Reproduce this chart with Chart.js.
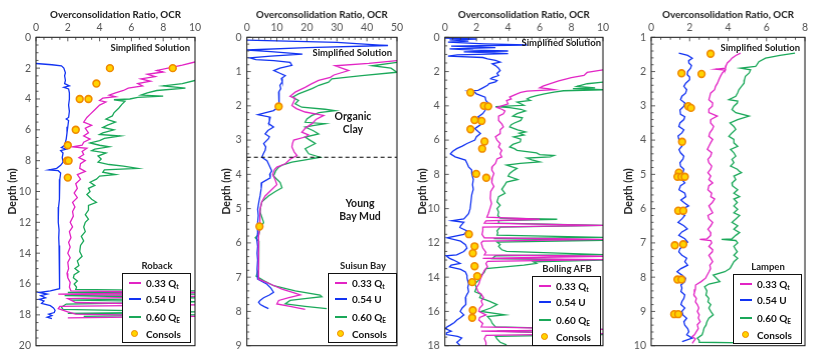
<!DOCTYPE html>
<html><head><meta charset="utf-8">
<script src="https://cdn.jsdelivr.net/npm/chart.js@4.4.1/dist/chart.umd.min.js"></script>
<style>
html,body{margin:0;padding:0;background:#fff;}
body{width:822px;height:357px;overflow:hidden;position:relative;font-family:Lato,"Liberation Sans",sans-serif;}
.wrap{position:absolute;top:0;height:357px;}
.note{position:absolute;font-weight:bold;font-size:9.5px;color:#1a1a1a;white-space:nowrap;line-height:12px;}
.big{font-size:10.5px;line-height:12.5px;}
.ctr{text-align:center;transform:translateX(-50%);}
.leg{position:absolute;border:1.5px solid #111;background:#fff;box-sizing:border-box;width:69px;height:70px;}
.legt{position:absolute;font-weight:bold;font-size:9.5px;color:#222;white-space:nowrap;transform:translateX(-50%);}
.row{position:absolute;left:0;height:14px;width:100%;}
.samp{position:absolute;left:6px;top:6px;width:12px;height:1.6px;}
.dot{position:absolute;left:8px;top:3px;width:5px;height:5px;border-radius:50%;background:#ffd400;border:1.5px solid #f08a00;}
.lab{position:absolute;left:23px;top:0;font-weight:bold;font-size:10px;color:#111;line-height:14px;white-space:nowrap;}
.lab sub{font-size:6.5px;vertical-align:-2px;}
</style></head>
<body>
<div class="wrap" id="w1"><canvas id="c1"></canvas></div>
<div class="wrap" id="w2"><canvas id="c2"></canvas></div>
<div class="wrap" id="w3"><canvas id="c3"></canvas></div>
<div class="wrap" id="w4"><canvas id="c4"></canvas></div>
<div id="overlay"></div>
<script>
// ---------------- DATA (depth m, OCR) ----------------
const seriesNames = ['0.33 Qt', '0.54 U', '0.60 QE', 'Consols'];
const siteNames = ['Roback', 'Suisun Bay', 'Bolling AFB', 'Lampen'];

// Roback
const robackQt = [[1.6,10],[1.8,9.2],[2.0,8.3],[2.15,7.6],[2.25,8.0],[2.4,7.0],[2.55,7.5],[2.7,6.6],[2.85,7.2],[3.0,6.4],[3.15,6.7],[3.3,5.8],[3.45,5.5],[3.6,5.0],[3.75,4.6],[3.85,5.0],[3.95,4.2],[4.1,4.0],[4.2,4.4],[4.4,4.0],[4.7,3.7],[5.0,3.4],[5.2,3.2],[5.5,3.0],[5.7,3.5],[5.9,3.1],[6.2,3.3],[6.4,3.0],[6.6,3.4],[6.8,3.0],[7.0,2.9],[7.1,2.3],[7.2,3.2],[7.4,2.9],[7.6,3.0],[7.8,2.7],[8.0,3.1],[8.2,2.8],[8.5,2.75],[8.7,3.1],[8.9,2.6],[9.2,2.8],[9.5,2.5],[9.8,2.6],[10.1,2.4],[10.4,2.6],[10.7,2.3],[11.0,2.45],[11.3,2.3],[11.6,2.35],[12.0,2.15],[12.3,2.3],[12.6,2.1],[13.0,2.2],[13.3,2.05],[13.6,2.15],[14.0,2.0],[14.3,2.15],[14.6,2.0],[15.0,2.05],[15.3,1.95],[15.6,2.0],[15.9,2.15],[16.2,2.1],[16.45,2.2],[16.55,10],[16.65,1.4],[16.8,10],[16.95,2.0],[17.2,2.5],[17.35,10],[17.45,1.5],[17.6,1.4],[17.8,2.0],[17.95,2.5],[18.1,10],[18.2,2.0]];
const robackU = [[1.7,0.0],[1.78,1.0],[1.85,1.6],[2.0,1.75],[2.3,1.85],[2.5,1.8],[2.8,1.85],[3.0,1.8],[3.15,2.1],[3.25,1.75],[3.35,2.05],[3.6,2.1],[4.0,2.1],[4.4,2.05],[4.8,2.1],[5.2,2.05],[5.3,1.9],[5.4,2.05],[5.8,2.0],[6.2,1.95],[6.6,1.9],[7.0,1.8],[7.15,1.6],[7.25,1.9],[7.35,1.55],[7.5,1.7],[7.8,1.65],[8.1,1.7],[8.3,1.55],[8.5,1.3],[8.6,0.8],[8.65,1.4],[8.8,1.55],[9.2,1.5],[9.6,1.5],[10.0,1.47],[10.5,1.45],[11.0,1.42],[11.5,1.4],[12.0,1.4],[12.5,1.45],[13.0,1.43],[13.5,1.45],[14.0,1.47],[14.5,1.45],[15.0,1.5],[15.5,1.48],[16.0,1.5],[16.3,1.5],[16.45,0.9],[16.55,0.2],[16.65,0.7],[16.75,0.3],[16.9,0.6],[17.0,0.2],[17.1,0.5],[17.25,0.35],[17.4,0.9],[17.55,1.1],[17.7,1.2],[17.85,1.15],[17.95,0.8],[18.05,1.0],[18.15,0.7],[18.25,1.0]];
const robackQE = [[2.8,10],[3.0,9.2],[3.15,8.0],[3.3,9.4],[3.45,7.6],[3.6,7.0],[3.75,6.6],[3.82,8.0],[3.9,6.4],[4.0,5.9],[4.05,4.9],[4.15,5.6],[4.35,5.4],[4.6,5.2],[4.9,4.9],[5.1,4.8],[5.3,4.4],[5.5,5.0],[5.7,4.5],[5.85,4.2],[6.0,4.9],[6.2,4.2],[6.3,4.0],[6.4,5.3],[6.55,4.3],[6.7,4.0],[6.85,3.4],[7.0,4.0],[7.1,4.6],[7.25,3.7],[7.35,3.5],[7.5,4.4],[7.7,3.9],[7.9,4.1],[8.1,3.9],[8.25,4.6],[8.35,5.5],[8.5,6.4],[8.6,4.3],[8.75,4.2],[8.9,5.0],[9.0,4.0],[9.2,3.8],[9.4,3.4],[9.6,3.7],[9.8,3.3],[10.0,3.4],[10.2,3.2],[10.5,3.5],[10.7,3.8],[10.9,3.3],[11.2,3.3],[11.5,3.1],[11.8,3.3],[12.0,3.1],[12.3,3.0],[12.6,3.1],[12.9,2.85],[13.2,3.0],[13.5,2.8],[13.9,2.75],[14.2,2.9],[14.5,2.6],[14.8,2.7],[15.0,2.45],[15.2,2.7],[15.4,2.4],[15.6,2.35],[15.8,2.6],[16.0,2.4],[16.2,2.55],[16.35,2.5],[16.45,10],[16.55,2.0],[16.65,10],[16.75,1.8],[16.9,10],[17.05,2.2],[17.15,10],[17.3,1.9],[17.5,1.6],[17.65,1.7],[17.8,10],[17.9,2.0],[18.0,10],[18.1,3.0]];
const robackConsols = [[2.0,4.65],[2.0,8.6],[3.0,3.8],[4.0,2.75],[4.0,3.3],[6.0,2.5],[7.0,2.0],[8.0,1.95],[8.0,2.05],[9.1,2.0]];

// Suisun Bay
const suisunQt = [[0.68,50],[0.76,40.6],[0.83,29.4],[0.97,33.9],[1.1,29],[1.17,27.8],[1.26,23.9],[1.36,21.5],[1.46,19.4],[1.6,16.1],[1.72,14.4],[1.78,16.1],[1.9,15.5],[1.99,15.0],[2.08,16.5],[2.18,19.4],[2.28,25.6],[2.4,23],[2.52,21.7],[2.65,19.5],[2.77,18.3],[2.85,20.5],[2.91,19.4],[3.0,15.6],[3.1,15.2],[3.2,15.0],[3.35,15.8],[3.45,16.7],[3.55,14.5],[3.69,12.8],[3.79,10.0],[3.86,9.2],[4.0,8.6],[4.15,9.4],[4.3,10.0],[4.44,8.3],[4.63,6.1],[4.8,5.0],[5.02,4.4],[5.3,4.4],[5.5,4.3],[5.8,3.9],[6.1,4.0],[6.4,3.8],[6.77,3.9],[7.06,3.9],[7.2,7.8],[7.35,11.7],[7.45,15.5],[7.52,17.8],[7.6,14],[7.68,10.6],[7.78,10.0],[7.85,14.4],[7.94,19.4]];
const suisunU = [[0.08,0],[0.15,30],[0.24,47],[0.3,20],[0.37,0],[0.42,8],[0.49,18.5],[0.55,8],[0.6,1],[0.65,3],[0.68,9],[0.73,14.4],[0.82,15],[0.9,11],[0.97,9],[1.05,11],[1.12,12.8],[1.2,11.5],[1.3,11.8],[1.4,11],[1.5,11.3],[1.6,10.6],[1.75,10.6],[1.9,10.8],[2.02,10.8],[2.14,8.9],[2.26,3.7],[2.33,7.8],[2.45,7.5],[2.52,7.2],[2.62,8.9],[2.72,7.0],[2.82,6.1],[2.9,7.5],[2.96,7.2],[3.1,5.6],[3.2,6.3],[3.3,6.1],[3.4,5.5],[3.5,5.0],[3.6,6.7],[3.75,7.5],[3.9,8.3],[4.0,7.6],[4.1,7.8],[4.24,5.0],[4.4,4.8],[4.63,4.4],[4.8,4.0],[5.02,3.6],[5.2,3.8],[5.5,3.5],[5.7,3.6],[5.9,3.3],[6.1,3.6],[6.3,3.4],[6.5,3.6],[6.77,3.4],[6.95,3.5],[7.06,3.6],[7.2,6.6],[7.32,8.0],[7.44,8.9],[7.52,7.5],[7.6,5.6],[7.68,4.4],[7.73,3.9],[7.8,4.5],[7.86,5.8],[7.92,7.2]];
const suisunQE = [[0.73,50],[0.83,41.7],[0.9,48],[1.02,50],[1.12,38.3],[1.21,28.3],[1.31,27.2],[1.4,24],[1.5,21.7],[1.65,17.2],[1.75,15.2],[1.84,17.2],[1.94,16.1],[2.04,18.3],[2.1,26],[2.14,29.4],[2.2,24],[2.28,21.7],[2.38,20],[2.48,19.4],[2.52,26.1],[2.58,22],[2.62,19.4],[2.72,22],[2.82,23.9],[2.91,19.4],[3.0,21],[3.1,22.8],[3.25,19.4],[3.4,20.6],[3.5,24.4],[3.57,20],[3.64,15],[3.72,12],[3.79,10.6],[3.9,9.6],[4.05,8.9],[4.24,11.1],[4.39,11.7],[4.5,9.5],[4.63,7.2],[4.8,5.0],[4.95,4.6],[5.1,4.4],[5.25,5.0],[5.4,5.6],[5.6,4.4],[5.75,4.0],[5.85,2.8],[5.95,4.0],[6.3,3.8],[6.6,4.1],[6.77,3.9],[6.97,3.1],[7.1,5.6],[7.25,8.9],[7.4,16.1],[7.52,24.4],[7.57,25],[7.62,20],[7.68,14.4],[7.78,12.8],[7.85,19.4],[7.92,26.6]];
const suisunConsols = [[2.02,10.6],[5.52,4.2]];
const suisunBoundary = [[3.5,0],[3.5,50]];

// Bolling AFB
const bollingQt = [[1.9,10],[2.05,9.0],[2.23,8.8],[2.35,8.0],[2.42,7.7],[2.55,7.2],[2.71,6.67],[2.85,6.2],[2.95,6.0],[3.0,6.5],[3.06,6.9],[3.14,5.2],[3.22,4.8],[3.3,4.56],[3.49,4.1],[3.6,4.2],[3.7,3.9],[3.88,4.0],[4.0,3.6],[4.1,3.3],[4.2,3.6],[4.3,3.8],[4.46,3.7],[4.6,3.4],[4.85,3.4],[5.05,3.6],[5.23,3.7],[5.4,3.5],[5.62,3.5],[5.8,3.2],[6.0,3.3],[6.2,3.5],[6.4,3.4],[6.6,3.6],[6.8,3.5],[6.98,3.6],[7.1,3.3],[7.36,3.2],[7.55,3.0],[7.75,2.97],[7.95,3.1],[8.2,3.0],[8.48,2.97],[8.7,3.1],[9.0,2.9],[9.4,2.87],[9.7,2.95],[10.0,2.85],[10.3,2.75],[10.5,2.66],[10.62,6.0],[10.72,2.6],[10.85,2.5],[10.98,10],[11.08,2.4],[11.3,2.4],[11.5,2.35],[11.7,2.5],[11.8,10],[11.9,2.4],[12.0,2.3],[12.3,2.4],[12.55,2.6],[12.7,2.5],[12.78,10],[12.9,2.4],[12.98,10],[13.08,2.7],[13.2,2.6],[13.4,2.7],[13.6,2.5],[13.9,2.35],[14.1,2.25],[14.4,2.15],[14.6,2.0],[14.85,2.1],[15.0,2.3],[15.2,2.45],[15.4,2.3],[15.6,2.4],[15.8,2.2],[16.0,2.15],[16.2,2.6],[16.35,2.2],[16.5,2.15],[16.7,2.4],[16.9,2.3],[17.05,10],[17.15,2.3],[17.3,10],[17.4,2.6],[17.6,2.5],[17.8,2.6],[18.0,2.6]];
const bollingU = [[0.05,0],[0.1,2.0],[0.15,0.3],[0.22,1.5],[0.28,0.2],[0.38,2.5],[0.45,5.2],[0.52,0.4],[0.6,3.2],[0.68,0.3],[0.75,1.8],[0.8,4.0],[0.85,1.2],[0.9,2.8],[0.95,4.0],[1.02,0.8],[1.1,0.2],[1.18,2.4],[1.26,2.7],[1.35,3.2],[1.45,3.5],[1.55,3.0],[1.65,3.2],[1.8,3.4],[1.94,3.5],[2.1,3.3],[2.23,3.4],[2.35,3.0],[2.42,2.9],[2.52,3.3],[2.6,3.2],[2.7,2.8],[2.8,2.7],[2.95,2.4],[3.1,2.1],[3.14,1.5],[3.22,1.9],[3.3,2.0],[3.5,2.55],[3.7,2.6],[3.88,2.8],[4.05,2.6],[4.26,2.55],[4.45,2.4],[4.65,2.1],[4.85,2.3],[5.04,2.35],[5.2,2.1],[5.33,1.9],[5.5,2.1],[5.62,2.25],[5.8,2.0],[6.0,1.9],[6.2,1.4],[6.35,1.1],[6.5,0.75],[6.65,0.5],[6.8,0.35],[6.98,0.65],[7.17,1.3],[7.35,1.4],[7.56,1.5],[7.75,1.7],[7.95,1.7],[8.3,1.8],[8.6,1.75],[8.87,1.8],[9.2,1.7],[9.6,1.65],[10.0,1.6],[10.3,1.5],[10.6,1.2],[10.7,0.45],[10.8,1.2],[11.0,1.0],[11.1,0.95],[11.3,1.4],[11.5,1.2],[11.7,0.13],[11.9,1.0],[12.1,1.3],[12.3,1.4],[12.5,1.2],[12.7,0.75],[12.75,0.08],[12.9,0.3],[13.0,0.55],[13.2,0.97],[13.3,0.4],[13.4,0.3],[13.55,1.0],[13.7,1.3],[13.9,1.4],[14.05,1.4],[14.4,1.5],[14.6,1.45],[14.85,1.5],[15.0,1.4],[15.2,1.3],[15.4,1.35],[15.6,1.3],[15.8,1.1],[16.0,0.97],[16.2,1.2],[16.35,1.0],[16.5,0.76],[16.65,0.6],[16.8,0.34],[16.9,0.15],[17.0,0.02],[17.15,0.4],[17.25,0.1],[17.35,0.1],[17.45,0.8],[17.55,1.07],[17.7,0.9],[17.8,0.76],[18.0,0.97]];
const bollingQE = [[2.62,10],[2.71,9.0],[2.8,8.6],[2.87,8.35],[2.95,9.5],[3.0,8.1],[3.06,10],[3.12,7.5],[3.2,6.9],[3.3,6.3],[3.4,5.8],[3.5,5.4],[3.6,5.2],[3.68,5.4],[3.78,4.56],[3.88,4.8],[3.97,5.0],[4.05,3.2],[4.1,4.1],[4.2,4.8],[4.3,5.1],[4.46,4.56],[4.6,4.3],[4.7,4.9],[4.85,4.8],[5.0,4.4],[5.1,4.2],[5.23,4.1],[5.4,4.6],[5.52,5.1],[5.6,4.7],[5.7,5.0],[5.81,4.35],[5.95,4.8],[6.1,4.77],[6.25,4.3],[6.4,4.1],[6.5,4.4],[6.6,4.56],[6.75,5.8],[6.85,6.0],[6.9,6.9],[6.98,6.67],[7.05,5.2],[7.15,5.5],[7.27,6.0],[7.36,4.77],[7.46,3.9],[7.55,4.2],[7.65,4.56],[7.8,4.3],[7.95,4.1],[8.1,4.0],[8.3,4.6],[8.45,3.9],[8.6,3.8],[8.87,3.6],[9.1,3.8],[9.3,3.4],[9.6,3.3],[9.8,3.5],[10.0,3.3],[10.2,3.4],[10.4,3.35],[10.55,3.5],[10.62,7.1],[10.7,3.4],[10.85,3.4],[10.98,10],[11.08,3.5],[11.3,3.3],[11.4,3.35],[11.55,3.3],[11.68,10],[11.75,3.1],[11.85,10],[11.95,3.3],[12.1,3.5],[12.2,3.4],[12.4,3.6],[12.5,3.9],[12.68,10],[12.75,3.2],[12.92,3.0],[13.0,10],[13.1,5.6],[13.2,5.8],[13.3,5.0],[13.5,2.6],[13.7,2.5],[13.9,2.3],[14.1,2.2],[14.4,1.9],[14.6,2.0],[14.85,1.9],[15.0,2.3],[15.2,2.2],[15.4,2.8],[15.6,3.3],[15.8,2.9],[16.0,2.3],[16.2,3.8],[16.3,2.7],[16.5,2.9],[16.7,3.0],[16.9,3.2],[17.05,10],[17.15,3.3],[17.35,10],[17.45,3.2],[17.6,3.3],[17.8,3.5],[17.95,3.9]];
const bollingConsols = [[3.22,1.62],[4.0,2.47],[4.03,2.74],[4.83,1.88],[4.88,2.32],[5.37,1.62],[6.08,2.51],[6.5,2.36],[7.97,1.98],[8.2,2.62],[11.49,1.52],[12.2,1.88],[12.6,1.77],[13.36,1.88],[13.94,2.05],[14.29,1.73],[15.93,1.77],[16.37,1.73]];

// Lampen
const lampenQt = [[1.46,4.65],[1.53,4.4],[1.61,4.2],[1.68,4.1],[1.75,3.96],[1.82,3.9],[1.9,3.87],[1.93,3.35],[1.96,3.85],[2.04,3.7],[2.14,3.6],[2.24,3.52],[2.34,3.45],[2.43,3.35],[2.53,3.3],[2.63,3.09],[2.72,3.05],[2.82,3.0],[2.92,3.2],[3.01,3.18],[3.1,3.0],[3.2,3.0],[3.3,3.44],[3.4,3.1],[3.5,3.09],[3.6,3.25],[3.69,3.18],[3.79,3.05],[3.89,3.0],[3.98,3.2],[4.08,3.09],[4.18,3.0],[4.27,2.92],[4.37,3.15],[4.47,3.09],[4.56,2.95],[4.66,3.0],[4.76,3.15],[4.85,3.09],[4.95,2.95],[5.05,3.1],[5.15,3.0],[5.25,3.2],[5.33,3.0],[5.45,2.95],[5.55,3.15],[5.65,3.1],[5.72,3.3],[5.82,3.18],[5.92,3.0],[6.02,3.1],[6.12,3.2],[6.2,2.95],[6.3,3.0],[6.4,3.2],[6.5,3.1],[6.6,2.95],[6.7,3.1],[6.78,3.09],[6.88,2.9],[6.9,2.53],[6.93,3.1],[7.0,3.15],[7.1,3.0],[7.2,3.2],[7.26,3.18],[7.36,3.0],[7.45,3.1],[7.55,3.2],[7.65,3.05],[7.75,3.09],[7.85,3.0],[7.95,2.9],[8.03,2.83],[8.13,2.6],[8.23,2.31],[8.35,2.3],[8.45,2.25],[8.52,2.22],[8.62,2.35],[8.72,2.3],[8.8,2.4],[8.9,2.48],[9.0,2.4],[9.1,2.5],[9.19,2.45],[9.3,2.55],[9.39,2.4],[9.5,2.45],[9.59,2.35],[9.68,2.25],[9.73,2.14],[9.8,2.3],[9.88,2.2],[9.93,2.14]];
const lampenU = [[1.46,1.44],[1.53,1.9],[1.61,2.14],[1.68,1.95],[1.75,1.96],[1.82,2.1],[1.9,2.05],[2.0,1.9],[2.09,1.88],[2.16,2.0],[2.24,2.0],[2.34,1.8],[2.43,1.7],[2.53,1.85],[2.63,1.79],[2.72,1.6],[2.82,1.53],[2.92,1.75],[3.01,1.7],[3.12,1.5],[3.25,1.53],[3.32,1.75],[3.4,1.7],[3.5,1.5],[3.6,1.44],[3.7,1.7],[3.79,1.6],[3.88,1.4],[3.98,1.44],[4.08,1.65],[4.18,1.6],[4.28,1.45],[4.37,1.53],[4.47,1.7],[4.56,1.65],[4.66,1.5],[4.76,1.53],[4.85,1.7],[4.95,1.65],[5.05,1.5],[5.15,1.6],[5.25,1.75],[5.33,1.53],[5.45,1.45],[5.55,1.75],[5.65,1.8],[5.75,1.55],[5.82,1.7],[5.92,1.95],[6.02,1.6],[6.12,1.5],[6.2,1.75],[6.3,1.6],[6.4,1.4],[6.5,1.7],[6.59,1.88],[6.68,1.6],[6.78,1.44],[6.88,1.75],[6.98,1.9],[7.07,1.7],[7.17,1.5],[7.26,1.44],[7.36,1.6],[7.45,1.85],[7.55,1.75],[7.65,1.9],[7.75,1.55],[7.84,1.35],[7.94,1.6],[8.03,1.79],[8.13,1.75],[8.23,1.55],[8.32,1.6],[8.42,1.55],[8.52,1.75],[8.62,1.7],[8.71,1.6],[8.8,1.55],[8.9,1.75],[9.0,1.6],[9.1,1.65],[9.2,1.85],[9.3,1.7],[9.4,1.75],[9.5,1.9],[9.59,1.96],[9.68,1.85],[9.78,2.14],[9.88,1.61]];
const lampenQE = [[1.46,7.48],[1.53,6.7],[1.61,5.95],[1.71,5.6],[1.8,5.5],[1.85,5.43],[1.9,4.65],[1.95,5.17],[2.04,5.1],[2.14,4.9],[2.24,4.85],[2.34,4.83],[2.43,4.7],[2.53,4.56],[2.62,4.5],[2.72,4.4],[2.82,4.04],[2.86,4.5],[2.92,4.48],[3.01,4.3],[3.11,4.2],[3.2,4.4],[3.3,5.09],[3.4,4.5],[3.5,4.1],[3.6,4.3],[3.69,4.4],[3.79,4.2],[3.89,4.04],[3.98,4.3],[4.08,4.3],[4.18,4.5],[4.27,4.13],[4.37,4.3],[4.47,4.4],[4.56,4.2],[4.66,4.3],[4.76,4.13],[4.85,4.48],[4.9,4.57],[4.95,4.7],[5.05,4.3],[5.15,4.4],[5.25,4.2],[5.33,4.22],[5.45,4.5],[5.55,4.3],[5.65,4.6],[5.72,4.3],[5.82,4.48],[5.92,4.3],[6.02,4.5],[6.12,4.3],[6.2,4.6],[6.3,4.4],[6.4,4.2],[6.5,4.5],[6.6,4.3],[6.7,4.6],[6.78,4.4],[6.88,4.2],[6.9,3.66],[6.93,4.4],[7.0,4.5],[7.1,4.3],[7.2,4.4],[7.26,4.48],[7.36,4.3],[7.45,4.5],[7.55,4.3],[7.65,4.2],[7.75,4.1],[7.84,3.83],[7.94,3.23],[8.03,3.4],[8.13,3.57],[8.2,3.0],[8.28,2.78],[8.4,2.9],[8.52,2.85],[8.62,3.0],[8.72,2.95],[8.8,3.1],[8.9,3.0],[9.0,3.1],[9.1,3.23],[9.2,3.0],[9.3,2.9],[9.4,2.85],[9.49,2.75],[9.6,2.7],[9.68,2.65],[9.78,2.4],[9.85,2.5],[9.9,2.5],[9.92,4.9]];
const lampenConsols = [[1.48,3.09],[2.05,1.58],[2.07,2.62],[3.01,1.93],[3.06,2.07],[4.05,1.61],[4.95,1.44],[5.07,1.37],[5.07,1.58],[5.07,1.75],[6.06,1.41],[6.06,1.67],[7.07,1.23],[7.04,1.67],[8.07,1.37],[8.07,1.58],[9.08,1.2],[9.08,1.41]];

// axis ranges / ticks per panel
const xMaxes = [10, 50, 10, 8];
const xSteps = [2, 10, 2, 2];
const yMins = [0, 0, 0, 1];
const yMaxes = [20, 9, 18, 10];
const ySteps = [2, 1, 2, 1];
const yMinorSteps = [0.5, 0.2, 0.5, 0.2];
const xMinorSteps = [0.5, 2, 0.5, 0.5];

// ---------------- STYLE / LAYOUT ----------------
const COL = {qt:'#e224c4', u:'#1233f2', qe:'#1aa859', consFill:'#ffd400', consEdge:'#f08a00'};
const FONT = 'Lato, "Liberation Sans", sans-serif';
const layout = [
  {left:4,   yw:32,  plotW:159, note:[190,42]},
  {left:218, yw:28.7,plotW:150, note:[392,47]},
  {left:414, yw:30.7,plotW:158, note:[601,37]},
  {left:620, yw:31,  plotW:153.7, note:[800,42]}
];
const PLOT_TOP = 37.3, PLOT_BOTTOM = 347.8, RIGHT_PAD = 12, H = 357;

const toPts = arr => arr.map(p => ({x:p[1], y:p[0]}));

const frameTicks = {
  id:'frameTicks',
  afterDraw(chart, args, o){
    const {ctx, chartArea:a, scales:{x, y}} = chart;
    ctx.save();
    ctx.strokeStyle = '#111'; ctx.lineWidth = 1;
    ctx.strokeRect(a.left, a.top, a.right - a.left, a.bottom - a.top);
    ctx.lineWidth = 0.8; ctx.strokeStyle = '#333';
    const n = Math.round((o.xMax - 0) / o.xMinor);
    for (let i = 0; i <= n; i++) {
      const v = i * o.xMinor, px = x.getPixelForValue(v);
      const major = Math.abs(v / o.xMajor - Math.round(v / o.xMajor)) < 1e-6;
      ctx.beginPath(); ctx.moveTo(px, a.top); ctx.lineTo(px, a.top + (major ? 4 : 2.5)); ctx.stroke();
    }
    const m = Math.round((o.yMax - o.yMin) / o.yMinor);
    for (let i = 0; i <= m; i++) {
      const v = o.yMin + i * o.yMinor, py = y.getPixelForValue(v);
      const major = Math.abs((v - o.yMin) / o.yMajor - Math.round((v - o.yMin) / o.yMajor)) < 1e-6;
      ctx.beginPath(); ctx.moveTo(a.left, py); ctx.lineTo(a.left + (major ? 4 : 2.5), py); ctx.stroke();
    }
    ctx.restore();
  }
};

const panels = [
  {qt:robackQt, u:robackU, qe:robackQE, cons:robackConsols},
  {qt:suisunQt, u:suisunU, qe:suisunQE, cons:suisunConsols, boundary:suisunBoundary},
  {qt:bollingQt, u:bollingU, qe:bollingQE, cons:bollingConsols},
  {qt:lampenQt, u:lampenU, qe:lampenQE, cons:lampenConsols}
];

panels.forEach((p, i) => {
  const L = layout[i];
  const W = L.yw + L.plotW + RIGHT_PAD;
  const wrap = document.getElementById('w' + (i + 1));
  wrap.style.left = L.left + 'px'; wrap.style.width = W + 'px';
  const cv = document.getElementById('c' + (i + 1));
  cv.width = W; cv.height = H; cv.style.width = W + 'px'; cv.style.height = H + 'px';
  const line = (data, color, order) => ({type:'scatter', data:toPts(data), showLine:true, borderColor:color, backgroundColor:color, borderWidth:1.3, pointRadius:0, order});
  const datasets = [
    {type:'scatter', data:toPts(p.cons), pointRadius:3.4, pointBorderWidth:1.6, backgroundColor:COL.consFill, borderColor:COL.consEdge, order:0},
    line(p.qt, COL.qt, 1),
    line(p.u, COL.u, 2),
    line(p.qe, COL.qe, 3)
  ];
  if (p.boundary) datasets.push({type:'scatter', data:toPts(p.boundary), showLine:true, borderColor:'#000', borderWidth:1.2, borderDash:[4,3], pointRadius:0, order:0});
  new Chart(cv, {
    type:'scatter',
    data:{datasets},
    options:{
      responsive:false, animation:false, devicePixelRatio:1,
      layout:{padding:{left:0, right:RIGHT_PAD, top:0, bottom:H - PLOT_BOTTOM}},
      plugins:{legend:{display:false}, tooltip:{enabled:false},
        frameTicks:{xMax:xMaxes[i], xMajor:xSteps[i], xMinor:xMinorSteps[i], yMin:yMins[i], yMax:yMaxes[i], yMajor:ySteps[i], yMinor:yMinorSteps[i]}},
      scales:{
        x:{type:'linear', position:'top', min:0, max:xMaxes[i],
           ticks:{stepSize:xSteps[i], color:'#555', font:{family:FONT, size:10.5}, padding:3},
           grid:{drawOnChartArea:false, drawTicks:false}, border:{display:false},
           title:{display:true, text:'Overconsolidation Ratio, OCR', color:'#222', font:{family:FONT, size:9.8, weight:'bold'}, padding:{top:9, bottom:0}},
           afterFit(s){ s.height = PLOT_TOP; }},
        y:{type:'linear', reverse:true, min:yMins[i], max:yMaxes[i],
           ticks:{stepSize:ySteps[i], color:'#555', font:{family:FONT, size:10.5}, padding:5},
           grid:{drawOnChartArea:false, drawTicks:false}, border:{display:false},
           title:{display:true, text:'Depth (m)', color:'#222', font:{family:FONT, size:10.5, weight:'bold'}, padding:{top:2, bottom:0}},
           afterFit(s){ s.width = L.yw; }}
      }
    },
    plugins:[frameTicks]
  });
});

// ---------------- HTML annotations & legends ----------------
const ov = document.getElementById('overlay');
function addNote(html, x, y, cls) {
  const d = document.createElement('div');
  d.className = 'note ' + (cls || '');
  d.innerHTML = html;
  d.style.top = y + 'px';
  if (cls === 'right') { d.style.right = (822 - x) + 'px'; }
  else { d.style.left = x + 'px'; }
  ov.appendChild(d);
}
layout.forEach(L => addNote('Simplified Solution', L.note[0], L.note[1], 'right'));
addNote('Organic<br>Clay', 353, 110, 'ctr big');
addNote('Young<br>Bay Mud', 360, 197, 'ctr big');

const legendBoxes = [[122,273],[328,273],[532,276],[733,274]];
const legendRows = [
  {html:'0.33 Q<sub>t</sub>', color:COL.qt, top:2},
  {html:'0.54 U', color:COL.u, top:18},
  {html:'0.60 Q<sub>E</sub>', color:COL.qe, top:36},
  {html:'Consols', dot:true, top:53}
];
legendBoxes.forEach((b, i) => {
  const t = document.createElement('div');
  t.className = 'legt';
  t.textContent = siteNames[i];
  t.style.left = (b[0] + 35) + 'px'; t.style.top = (b[1] - 13) + 'px';
  ov.appendChild(t);
  const box = document.createElement('div');
  box.className = 'leg';
  box.style.left = b[0] + 'px'; box.style.top = b[1] + 'px';
  legendRows.forEach(r => {
    const row = document.createElement('div');
    row.className = 'row'; row.style.top = r.top + 'px';
    const s = document.createElement('div');
    if (r.dot) { s.className = 'dot'; } else { s.className = 'samp'; s.style.background = r.color; }
    row.appendChild(s);
    const l = document.createElement('div');
    l.className = 'lab'; l.innerHTML = r.html;
    row.appendChild(l);
    box.appendChild(row);
  });
  ov.appendChild(box);
});
</script>
</body></html>
